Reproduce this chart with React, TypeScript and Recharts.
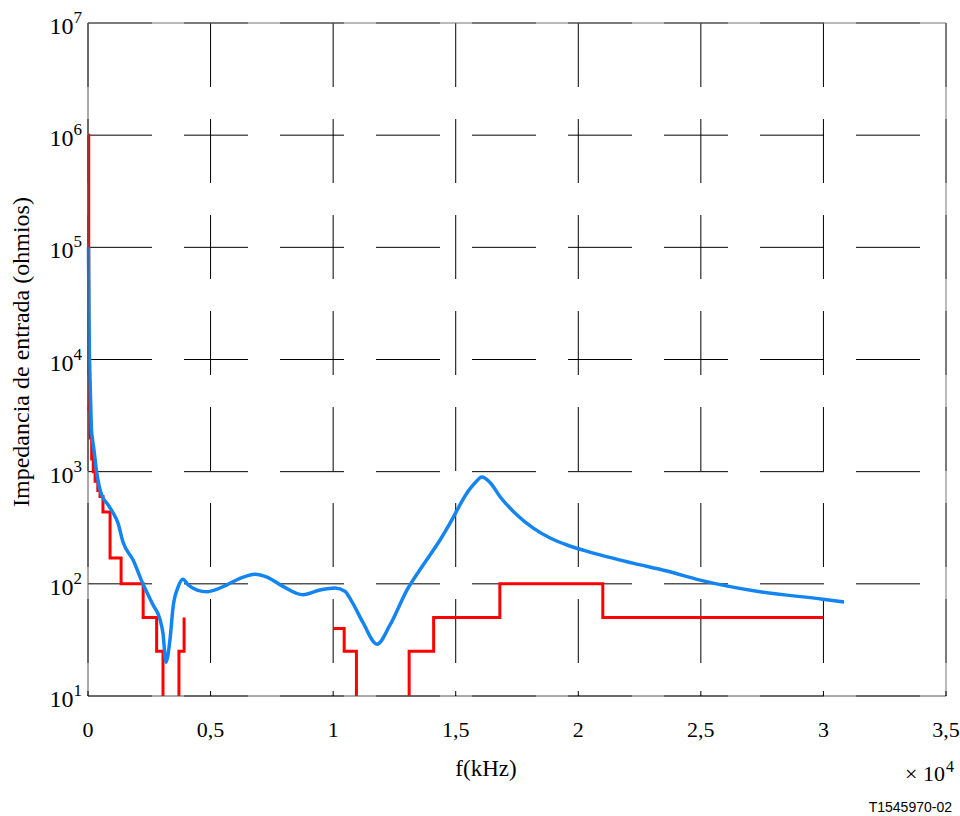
import React from 'react';
import { LineChart, Line, XAxis, YAxis, CartesianGrid } from 'recharts';

// Frequency axis (Hz), shown in units of 10^4 with comma decimals
const xTicks = [0, 5000, 10000, 15000, 20000, 25000, 30000, 35000];
const xTickLabels = ['0', '0,5', '1', '1,5', '2', '2,5', '3', '3,5'];

// Impedance axis (ohms), log decades
const yTicks = [1e1, 1e2, 1e3, 1e4, 1e5, 1e6, 1e7];
const yExponents = ['1', '2', '3', '4', '5', '6', '7'];

// Measured input impedance of the line
const lineFreq = [
  20, 30, 45, 60, 80, 110, 140, 190, 245, 350, 490, 640, 780, 1020, 1220, 1430, 1840, 2240,
  2650, 2940, 3060, 3180, 3345, 3470, 3670, 3875, 4080, 4450, 4855, 5670, 6200, 6810, 7300,
  7950, 8770, 9460, 10080, 10480, 10770, 11220, 11790, 12320, 13010, 13670, 14360, 14770,
  15460, 15800, 16070, 16400, 16810, 17500, 18150, 18850, 19540, 20190, 20890, 22230, 23620,
  24970, 27410, 29980, 30840,
];
const lineZ = [
  100000, 50000, 20000, 11000, 7000, 4000, 2400, 1900, 1550, 1000, 690, 570, 520, 430, 350,
  235, 163, 100, 65, 48, 36, 20, 32, 62, 93, 110, 98, 88, 85, 98, 112, 122, 115, 95, 80, 88,
  92, 86, 69, 45, 29, 43, 88, 147, 246, 348, 646, 800, 895, 800, 598, 411, 315, 256, 222, 200,
  181, 153, 130, 108, 85, 73, 69,
];

// Required impedance mask (stepwise); values of 1 fall below the plotted range,
// null breaks the trace
const maskFreq = [
  0, 30, 80, 150, 215, 290, 400, 490, 610, 900, 1350, 2250, 2800, 3060, 3710, 3920,
  5000, 10000, 10450, 10950, 13100, 14100, 16800, 21000, 30000,
];
const maskZ: (number | null)[] = [
  1000000, 3600, 2000, 1300, 1000, 820, 680, 600, 437, 170, 100, 50, 25, 1, 25, 50,
  null, 40, 25, 1, 25, 50, 100, 50, 50,
];

const lineData = lineFreq.map((f, i) => ({ f, z: lineZ[i] }));
const maskData = maskFreq.map((f, i) => ({ f, z: maskZ[i] }));

const SERIF = '"Liberation Serif", "DejaVu Serif", serif';

const XTick = (props: any) => {
  const { x, y, payload } = props;
  const idx = xTicks.indexOf(payload.value);
  return (
    <g>
      <line x1={x} x2={x} y1={y} y2={y - 5} stroke="#000" strokeWidth={1} />
      <text x={x} y={y + 41} textAnchor="middle" fontFamily={SERIF} fontSize={22} fill="#000">
        {xTickLabels[idx]}
      </text>
    </g>
  );
};

const YTick = (props: any) => {
  const { x, y, payload } = props;
  const idx = yTicks.indexOf(payload.value);
  return (
    <text x={x - 6} y={y + 11} textAnchor="end" fontFamily={SERIF} fontSize={24} fill="#000">
      10
      <tspan dy={-11} fontSize={17}>
        {yExponents[idx]}
      </tspan>
    </text>
  );
};

export default function App() {
  return (
    <div style={{ position: 'absolute', left: 0, top: 0, width: 960, height: 816, background: '#fff' }}>
      <LineChart
        width={960}
        height={816}
        margin={{ top: 22, right: 13, bottom: 80, left: 8 }}
      >
        <CartesianGrid stroke="#000" strokeWidth={1} strokeDasharray="64 32" />
        <XAxis
          dataKey="f"
          type="number"
          domain={[0, 35000]}
          ticks={xTicks}
          height={40}
          tickSize={0}
          tickMargin={0}
          tickLine={false}
          tick={<XTick />}
          axisLine={{ stroke: '#555', strokeWidth: 1 }}
          interval={0}
        />
        <XAxis
          xAxisId="top"
          orientation="top"
          dataKey="f"
          type="number"
          domain={[0, 35000]}
          height={1}
          tick={false}
          tickLine={false}
          axisLine={{ stroke: '#777', strokeWidth: 1 }}
        />
        <YAxis
          scale="log"
          type="number"
          domain={[10, 1e7]}
          ticks={yTicks}
          allowDataOverflow
          width={80}
          tickSize={0}
          tickMargin={0}
          tickLine={false}
          tick={<YTick />}
          axisLine={{ stroke: '#555', strokeWidth: 1 }}
          interval={0}
        />
        <YAxis
          yAxisId="right"
          orientation="right"
          type="number"
          domain={[10, 1e7]}
          width={1}
          tick={false}
          tickLine={false}
          axisLine={{ stroke: '#777', strokeWidth: 1 }}
        />
        <Line
          data={maskData}
          dataKey="z"
          type="stepAfter"
          stroke="#ff0000"
          strokeWidth={3}
          dot={false}
          connectNulls={false}
          isAnimationActive={false}
        />
        <Line
          data={lineData}
          dataKey="z"
          type="monotone"
          stroke="#1485f0"
          strokeWidth={3.5}
          dot={false}
          isAnimationActive={false}
        />
      </LineChart>
      <svg
        width={960}
        height={816}
        style={{ position: 'absolute', left: 0, top: 0, pointerEvents: 'none' }}
      >
        <text
          x={29}
          y={352}
          transform="rotate(-90, 29, 352)"
          textAnchor="middle"
          fontFamily={SERIF}
          fontSize={24}
          fill="#000"
        >
          Impedancia de entrada (ohmios)
        </text>
        <text x={486} y={776} textAnchor="middle" fontFamily={SERIF} fontSize={23} fill="#000">
          f(kHz)
        </text>
        <text x={945} y={781} textAnchor="end" fontFamily={SERIF} fontSize={22} fill="#000">
          {'\u00d7 10'}
        </text>
        <text x={946} y={772} textAnchor="start" fontFamily={SERIF} fontSize={16} fill="#000">
          4
        </text>
        <text
          x={952}
          y={812}
          textAnchor="end"
          fontFamily='"Liberation Sans", Arial, sans-serif'
          fontSize={14}
          fill="#000"
        >
          T1545970-02
        </text>
      </svg>
    </div>
  );
}
